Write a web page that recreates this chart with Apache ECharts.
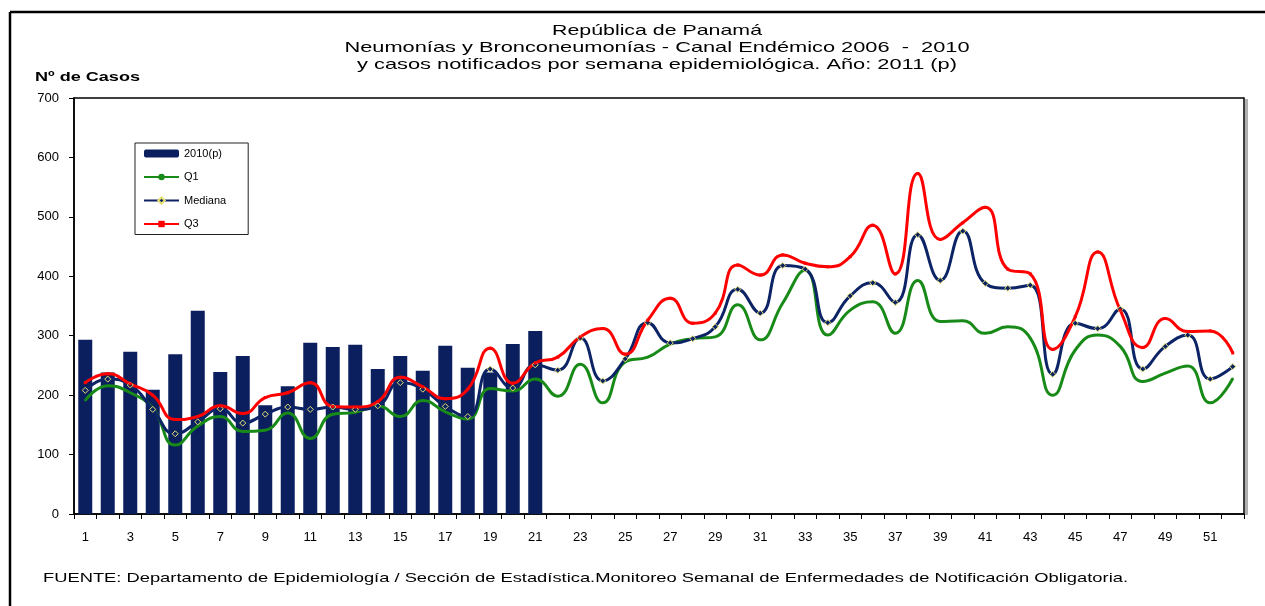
<!DOCTYPE html>
<html>
<head>
<meta charset="utf-8">
<script src="https://cdn.jsdelivr.net/npm/echarts@6/dist/echarts.min.js"></script>
<style>
  html, body { margin: 0; padding: 0; background: #fff; }
  #chart { width: 1265px; height: 606px; }
</style>
</head>
<body>
<div id="chart"></div>
<script>
  // semanas epidemiologicas
  const weeks = ['1','2','3','4','5','6','7','8','9','10','11','12','13','14','15','16','17','18','19','20',
    '21','22','23','24','25','26','27','28','29','30','31','32','33','34','35','36','37','38','39','40',
    '41','42','43','44','45','46','47','48','49','50','51','52']

  // casos notificados (barras), solo hasta la semana 21
  const casos2010 = [293, 238, 273, 209, 269, 342, 239, 266, 183, 215, 288, 281, 285, 244, 266, 241, 283, 246, 238, 286, 308]

  const q1 = [191, 216, 204, 178, 116, 148, 164, 139, 141, 170, 127, 168, 171, 182, 164, 191, 172, 160, 211, 207,
    227, 198, 252, 187, 256, 264, 286, 295, 298, 352, 293, 355, 410, 301, 343, 357, 304, 393, 324, 325,
    304, 315, 296, 200, 276, 301, 282, 223, 237, 249, 187, 228]

  const mediana = [208, 227, 217, 176, 135, 155, 177, 153, 168, 180, 176, 180, 176, 182, 221, 210, 181, 164, 244, 212,
    251, 242, 296, 224, 261, 322, 288, 295, 315, 378, 338, 418, 412, 322, 367, 389, 356, 470, 393, 476,
    388, 380, 385, 235, 321, 312, 345, 244, 282, 301, 227, 248]

  const q3 = [221, 236, 219, 200, 159, 164, 182, 169, 196, 204, 221, 181, 180, 189, 230, 214, 194, 210, 279, 220,
    254, 264, 298, 312, 269, 326, 363, 321, 338, 419, 402, 436, 422, 416, 433, 486, 404, 573, 462, 490,
    516, 412, 404, 277, 332, 441, 343, 280, 329, 307, 308, 271]

  const yTicks = [0, 100, 200, 300, 400, 500, 600, 700]

  const FONT = '"Liberation Sans", Arial, sans-serif'

  // el grafico original esta estirado a lo ancho, se ajusta el texto al ancho medido
  function stretch(text, font, width) {
    const ctx = document.createElement('canvas').getContext('2d')
    ctx.font = font
    return width / ctx.measureText(text).width
  }

  function label(text, x, y, font, width, align) {
    return {
      type: 'text',
      x: x,
      y: y,
      scaleX: stretch(text, font, width),
      style: {
        text: text,
        font: font,
        fill: '#000',
        textAlign: align,
        textVerticalAlign: 'middle'
      }
    }
  }

  const titulo = [
    'República de Panamá',
    'Neumonías y Bronconeumonías - Canal Endémico 2006  -  2010',
    'y casos notificados por semana epidemiológica. Año: 2011 (p)'
  ]
  const fuente = 'FUENTE: Departamento de Epidemiología / Sección de Estadística.Monitoreo Semanal de Enfermedades de Notificación Obligatoria.'

  const chart = echarts.init(document.getElementById('chart'), null, { renderer: 'canvas' })

  const option = {
    backgroundColor: '#fff',
    animation: false,
    textStyle: { fontFamily: FONT },
    grid: {
      left: 74,
      right: 21,
      top: 98,
      bottom: 92,
      show: true,
      borderColor: '#000',
      borderWidth: 1.5,
      backgroundColor: '#fff'
    },
    legend: {
      orient: 'vertical',
      left: 135,
      top: 143,
      padding: [5, 22, 5, 8],
      itemWidth: 35,
      itemHeight: 8,
      itemGap: 12.5,
      backgroundColor: '#fff',
      borderColor: '#222',
      borderWidth: 1,
      textStyle: { fontSize: 11, color: '#000', fontFamily: FONT },
      lineStyle: { width: 2 },
      data: ['2010(p)', 'Q1', 'Mediana', 'Q3']
    },
    xAxis: {
      type: 'category',
      data: weeks,
      boundaryGap: true,
      axisLine: { lineStyle: { color: '#000', width: 1.5 } },
      axisTick: { show: true, interval: 0, length: 5, lineStyle: { color: '#000' } },
      axisLabel: { interval: 1, color: '#000', fontSize: 13, margin: 17, fontFamily: FONT },
      splitLine: { show: false }
    },
    yAxis: {
      type: 'value',
      min: yTicks[0],
      max: yTicks[yTicks.length - 1],
      interval: 100,
      axisLine: { show: true, lineStyle: { color: '#000', width: 1.5 } },
      axisTick: { show: true, length: 5, lineStyle: { color: '#000' } },
      axisLabel: { color: '#000', fontSize: 13, margin: 15, fontFamily: FONT },
      splitLine: { show: false }
    },
    series: [
      {
        name: '2010(p)',
        type: 'bar',
        barWidth: 14,
        itemStyle: { color: '#0b1f5e' },
        data: casos2010
      },
      {
        name: 'Q1',
        type: 'line',
        smooth: 0.5,
        symbol: 'circle',
        symbolSize: 2,
        showSymbol: true,
        itemStyle: { color: '#178a17' },
        lineStyle: { color: '#178a17', width: 3 },
        data: q1
      },
      {
        name: 'Mediana',
        type: 'line',
        smooth: 0.5,
        symbol: 'diamond',
        symbolSize: 6,
        itemStyle: { color: '#0c2366', borderColor: '#e6e070', borderWidth: 1 },
        lineStyle: { color: '#0c2366', width: 3 },
        data: mediana
      },
      {
        name: 'Q3',
        type: 'line',
        smooth: 0.5,
        symbol: 'rect',
        symbolSize: 3,
        itemStyle: { color: '#ff0000' },
        lineStyle: { color: '#ff0000', width: 3 },
        data: q3
      }
    ],
    graphic: [
      // marco exterior
      { type: 'line', shape: { x1: 10, y1: 12, x2: 1265, y2: 12 }, style: { stroke: '#000', lineWidth: 2.5 } },
      { type: 'line', shape: { x1: 10, y1: 12, x2: 10, y2: 606 }, style: { stroke: '#000', lineWidth: 2.5 } },
      // sombra del area de trazado
      { type: 'rect', shape: { x: 1245, y: 99, width: 3, height: 416 }, style: { fill: '#b0b0b0' } },
      label(titulo[0], 657, 31, '15px ' + FONT, 210, 'center'),
      label(titulo[1], 657, 48, '15px ' + FONT, 625, 'center'),
      label(titulo[2], 657, 65, '15px ' + FONT, 600, 'center'),
      label('Nº de Casos', 35, 78, 'bold 12px ' + FONT, 105, 'left'),
      label(fuente, 43, 578, '13px ' + FONT, 1085, 'left')
    ]
  }

  chart.setOption(option)
</script>
</body>
</html>
